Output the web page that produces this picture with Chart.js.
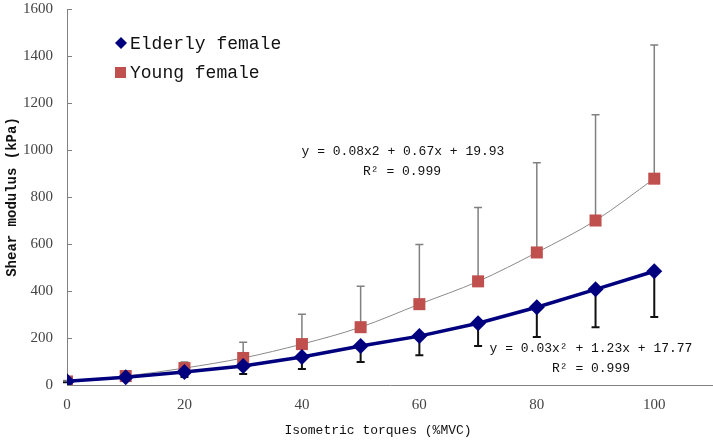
<!DOCTYPE html>
<html>
<head>
<meta charset="utf-8">
<script src="https://cdn.jsdelivr.net/npm/chart.js@4.4.0/dist/chart.umd.min.js"></script>
<style>
  body { margin: 0; background: #fff; }
  #myChart { display: block; }
</style>
</head>
<body>
<canvas id="myChart" width="713" height="441"></canvas>
<script>
// torque levels (%MVC)
var torques = [0, 10, 20, 30, 40, 50, 60, 70, 80, 90, 100];
// shear modulus means (kPa)
var elderly = [16, 33, 55, 81, 119, 166, 208, 263, 331, 407, 484];
var young = [15, 38, 72, 115, 174, 246, 344, 441, 564, 700, 878];
// SD (one-sided bars: elderly down, young up)
var elderlySD = [4, 8, 21, 34, 51, 68, 81, 97, 127, 161, 195];
var youngSD = [4, 17, 26, 67, 127, 174, 254, 314, 382, 450, 569];
var xTicks = [0, 20, 40, 60, 80, 100];

var mono = "'Liberation Mono', monospace";
var serif = "'Liberation Serif', serif";

function pts(vals) {
    return torques.map(function (t, i) { return { x: t, y: vals[i] }; });
}

// error bars, drawn under the markers; also the inward y ticks
var errorBars = {
    id: 'errorBars',
    beforeDatasetsDraw: function (chart) {
        var c = chart.ctx, xs = chart.scales.x, ys = chart.scales.y;
        c.save();
        c.strokeStyle = '#808080';
        c.lineWidth = 1;
        ys.ticks.forEach(function (t) {
            var py = Math.round(ys.getPixelForValue(t.value)) + 0.5;
            c.beginPath();
            c.moveTo(xs.left, py); c.lineTo(xs.left + 5, py);
            c.stroke();
        });
        var sets = [
            { mean: elderly, sd: elderlySD, dir: -1, color: '#111111', w: 2 },
            { mean: young, sd: youngSD, dir: 1, color: '#808080', w: 1.5 }
        ];
        sets.forEach(function (s) {
            c.strokeStyle = s.color;
            c.lineWidth = s.w;
            torques.forEach(function (t, i) {
                var px = xs.getPixelForValue(t);
                var y0 = ys.getPixelForValue(s.mean[i]);
                var y1 = ys.getPixelForValue(s.mean[i] + s.dir * s.sd[i]);
                c.beginPath();
                c.moveTo(px, y0); c.lineTo(px, y1);
                c.moveTo(px - 4, y1); c.lineTo(px + 4, y1);
                c.stroke();
            });
        });
        c.restore();
    }
};

// legend, x title and fit equations
var labels = {
    id: 'labels',
    afterDraw: function (chart) {
        var c = chart.ctx;
        c.save();
        // legend
        c.fillStyle = '#00007f';
        c.beginPath();
        c.moveTo(121, 37); c.lineTo(127, 43); c.lineTo(121, 49); c.lineTo(115, 43);
        c.closePath(); c.fill();
        c.fillStyle = '#c0504d';
        c.fillRect(115, 67, 11, 11);
        c.fillStyle = '#111';
        c.font = '18px ' + mono;
        c.textBaseline = 'middle';
        c.fillText('Elderly female', 130, 44);
        c.fillText('Young female', 130, 73);
        // x axis title
        c.font = '13px ' + mono;
        c.textAlign = 'center';
        c.fillText('Isometric torques (%MVC)', 378, 431);
        // equations
        c.fillText('y = 0.08x2 + 0.67x + 19.93', 403, 152);
        c.fillText('R\u00b2 = 0.999', 402, 172);
        c.fillText('y = 0.03x\u00b2 + 1.23x + 17.77', 591, 349);
        c.fillText('R\u00b2 = 0.999', 591, 369);
        c.restore();
    }
};

var ctx = document.getElementById('myChart').getContext('2d');
var chart = new Chart(ctx, {
    type: 'line',
    data: {
        datasets: [
            {
                label: 'Elderly female',
                data: pts(elderly),
                borderColor: '#00007f',
                backgroundColor: '#00007f',
                borderWidth: 3.5,
                pointStyle: 'rectRot',
                pointRadius: 8,
                pointBorderWidth: 0,
                tension: 0
            },
            {
                label: 'Young female',
                data: pts(young),
                borderColor: '#8a8a8a',
                backgroundColor: '#c0504d',
                borderWidth: 1,
                pointStyle: 'rect',
                pointRadius: 8.5,
                pointBorderWidth: 0,
                cubicInterpolationMode: 'monotone'
            }
        ]
    },
    options: {
        responsive: false,
        animation: false,
        layout: { autoPadding: false, padding: { left: 0, right: 0, top: 9, bottom: 0 } },
        plugins: {
            legend: { display: false },
            tooltip: { enabled: false }
        },
        scales: {
            x: {
                type: 'linear',
                min: 0,
                max: 110,
                afterBuildTicks: function (s) {
                    s.ticks = xTicks.map(function (v) { return { value: v }; });
                },
                afterFit: function (s) {
                    s.height = 56;
                    s.paddingLeft = 0;
                    s.paddingRight = 0;
                },
                border: { color: '#808080', width: 1 },
                grid: { drawOnChartArea: false, drawTicks: false, tickLength: 0 },
                ticks: { color: '#444', font: { family: serif, size: 15 }, padding: 11 }
            },
            y: {
                min: 0,
                max: 1600,
                ticks: {
                    stepSize: 200,
                    color: '#444',
                    font: { family: serif, size: 15 },
                    padding: 14,
                    callback: function (v) { return String(v); }
                },
                afterFit: function (s) {
                    s.width = 67;
                    s.paddingTop = 0;
                    s.paddingBottom = 0;
                },
                border: { color: '#808080', width: 1 },
                grid: { drawOnChartArea: false, drawTicks: false, tickLength: 0 },
                title: {
                    display: true,
                    text: 'Shear modulus (kPa)',
                    color: '#111',
                    font: { family: mono, size: 14, weight: 'bold' },
                    padding: { bottom: 0 }
                }
            }
        }
    },
    plugins: [errorBars, labels]
});
</script>
</body>
</html>
